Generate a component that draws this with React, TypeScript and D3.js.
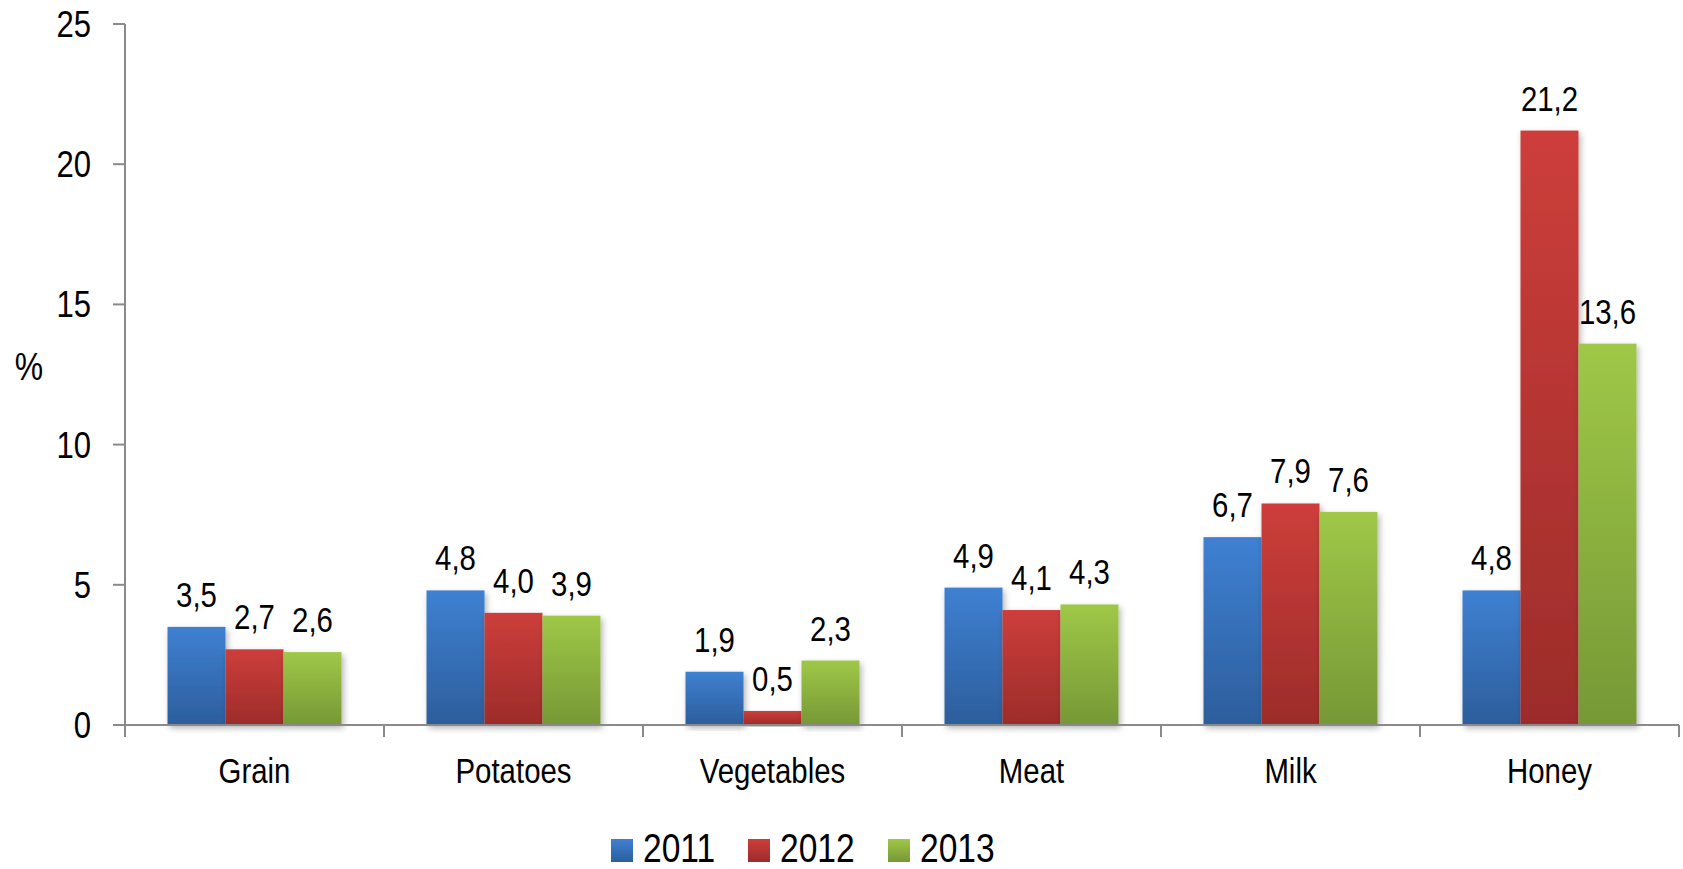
import React from "react";
import * as d3 from "d3";

const categories = ["Grain", "Potatoes", "Vegetables", "Meat", "Milk", "Honey"];
const years = ["2011", "2012", "2013"];
const values2011 = [3.5, 4.8, 1.9, 4.9, 6.7, 4.8];
const values2012 = [2.7, 4.0, 0.5, 4.1, 7.9, 21.2];
const values2013 = [2.6, 3.9, 2.3, 4.3, 7.6, 13.6];
const yTicks = [0, 5, 10, 15, 20, 25];

const seriesValues = [values2011, values2012, values2013];
const colors = [
  { top: "#3F80D2", bottom: "#2C5E9C" },
  { top: "#CD3E3B", bottom: "#9C2C2A" },
  { top: "#9FC847", bottom: "#769836" },
];

const W = 1683;
const H = 869;
const left = 125;
const right = 1679;
const top = 24;
const bottom = 725;
const font = "'Liberation Sans', Arial, sans-serif";
const SX = 0.84;

function T({
  x,
  y,
  size,
  anchor = "middle",
  children,
}: {
  x: number;
  y: number;
  size: number;
  anchor?: "start" | "middle" | "end";
  children: React.ReactNode;
}) {
  return (
    <g transform={`translate(${x},${y}) scale(${SX},1)`}>
      <text x={0} y={0} textAnchor={anchor} fontFamily={font} fontSize={size} fill="#000">
        {children}
      </text>
    </g>
  );
}

export default function App() {
  const y = d3.scaleLinear().domain([0, 25]).range([bottom, top]);
  const x0 = d3.scaleBand<string>().domain(categories).range([left, right]).padding(0);
  const x1 = d3
    .scaleBand<string>()
    .domain(years)
    .range([0, x0.bandwidth()])
    .paddingInner(0)
    .paddingOuter(0.733);
  const fmt = (v: number) => d3.format(".1f")(v).replace(".", ",");

  return (
    <svg width={W} height={H} style={{ position: "absolute", left: 0, top: 0 }}>
      <defs>
        {colors.map((c, i) => (
          <linearGradient key={i} id={`g${i}`} x1="0" y1="0" x2="0" y2="1">
            <stop offset="0%" stopColor={c.top} />
            <stop offset="100%" stopColor={c.bottom} />
          </linearGradient>
        ))}
        <filter id="shadow" x="-20%" y="-5%" width="140%" height="115%">
          <feDropShadow dx="2" dy="3" stdDeviation="3" floodColor="#000" floodOpacity="0.3" />
        </filter>
      </defs>
      <rect width={W} height={H} fill="#fff" />

      {/* bars */}
      {categories.map((cat, ci) =>
        years.map((yr, si) => {
          const v = seriesValues[si][ci];
          const bx = (x0(cat) as number) + (x1(yr) as number);
          return (
            <rect
              key={cat + yr}
              x={bx}
              y={y(v)}
              width={x1.bandwidth()}
              height={y(0) - y(v)}
              fill={`url(#g${si})`}
              filter="url(#shadow)"
            />
          );
        })
      )}

      {/* data labels */}
      {categories.map((cat, ci) =>
        years.map((yr, si) => {
          const v = seriesValues[si][ci];
          const cx = (x0(cat) as number) + (x1(yr) as number) + x1.bandwidth() / 2;
          return (
            <T key={"l" + cat + yr} x={cx} y={y(v) - 20} size={35}>
              {fmt(v)}
            </T>
          );
        })
      )}

      {/* y axis */}
      <line x1={left} x2={left} y1={top} y2={bottom} stroke="#8a8a8a" strokeWidth={2} />
      {yTicks.map((t) => (
        <g key={t}>
          <line x1={left - 12} x2={left} y1={y(t)} y2={y(t)} stroke="#8a8a8a" strokeWidth={2} />
          <T x={91} y={y(t) + 13} size={37} anchor="end">
            {t}
          </T>
        </g>
      ))}
      <T x={29} y={380} size={38}>
        %
      </T>

      {/* x axis */}
      <line x1={left - 12} x2={right} y1={bottom} y2={bottom} stroke="#8a8a8a" strokeWidth={2} />
      {[...categories.map((c) => x0(c) as number), right].map((xx, i) => (
        <line key={i} x1={xx} x2={xx} y1={bottom} y2={bottom + 12} stroke="#8a8a8a" strokeWidth={2} />
      ))}
      {categories.map((cat) => (
        <T key={"c" + cat} x={(x0(cat) as number) + x0.bandwidth() / 2} y={783} size={35}>
          {cat}
        </T>
      ))}

      {/* legend */}
      {years.map((yr, i) => {
        const lx = [611, 748, 888][i];
        return (
          <g key={"lg" + yr}>
            <rect x={lx} y={839} width={22} height={23} fill={`url(#g${i})`} />
            <T x={lx + 32} y={862} size={40} anchor="start">
              {yr}
            </T>
          </g>
        );
      })}
    </svg>
  );
}
